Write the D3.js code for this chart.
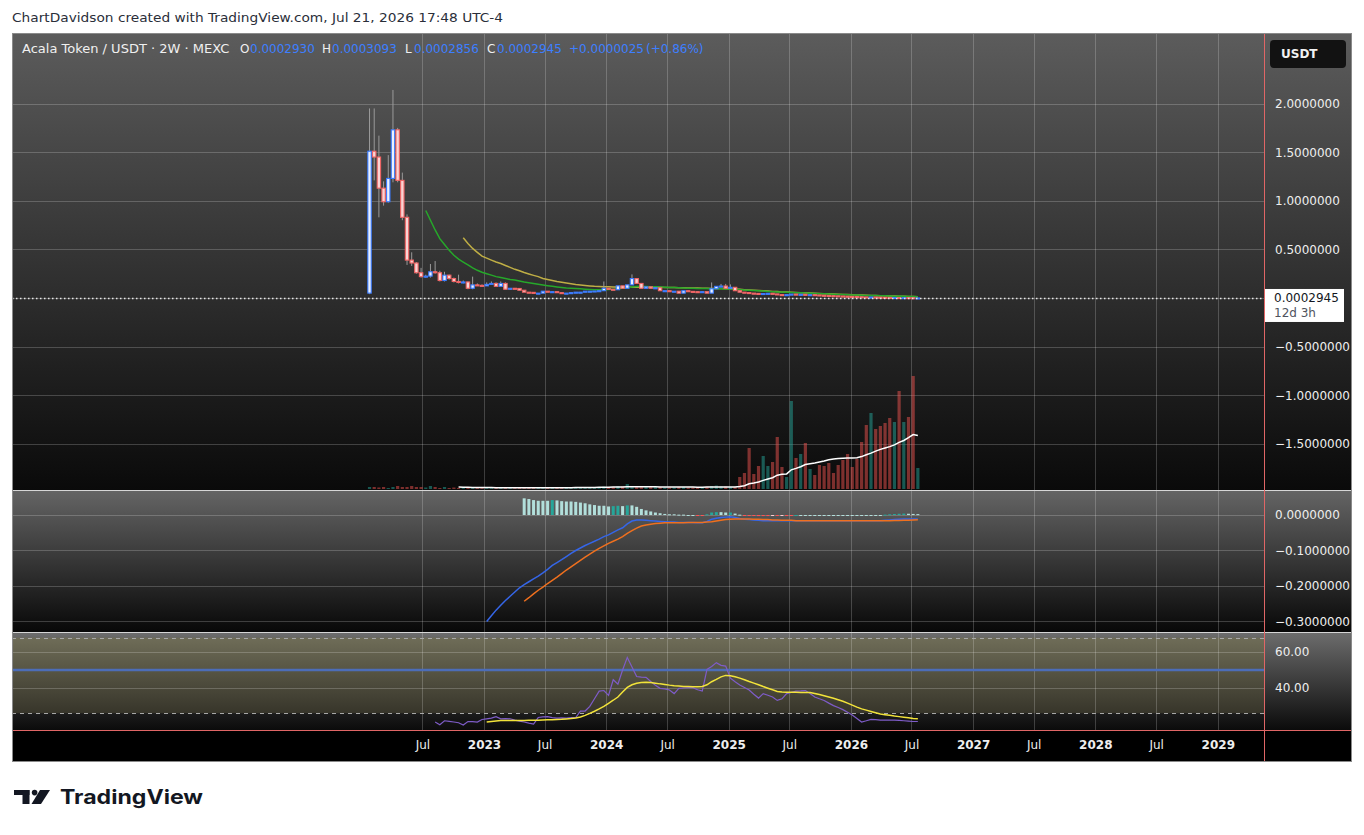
<!DOCTYPE html>
<html>
<head>
<meta charset="utf-8">
<script src="https://cdn.jsdelivr.net/npm/d3@7"></script>
<style>
  body { margin: 0; background: #fff; }
  svg { display: block; font-family: "DejaVu Sans", sans-serif; }
</style>
</head>
<body>
<div id="chart"></div>
<script>
// Acala Token / USDT, 2W bars on MEXC
var firstBar = Date.UTC(2022, 0, 24);
var barDays = 14;
var firstOpen = 0.05;

var closes = [
  1.51, 1.45, 1.13, 0.99, 1.23, 1.73, 1.21, 0.83, 0.39, 0.36,
  0.26, 0.22, 0.225, 0.27, 0.26, 0.18, 0.235, 0.20, 0.17, 0.16,
  0.165, 0.10, 0.135, 0.13, 0.125, 0.14, 0.15, 0.12, 0.15, 0.09,
  0.10, 0.098, 0.08, 0.06, 0.058, 0.05, 0.05, 0.07, 0.062, 0.065,
  0.055, 0.045, 0.05, 0.055, 0.06, 0.06, 0.07, 0.07, 0.072, 0.075,
  0.10, 0.09, 0.085, 0.125, 0.10, 0.135, 0.20, 0.15, 0.10, 0.115,
  0.10, 0.105, 0.075, 0.075, 0.07, 0.07, 0.05, 0.075, 0.068, 0.065,
  0.06, 0.065, 0.05, 0.095, 0.12, 0.123, 0.10, 0.11, 0.075, 0.06,
  0.056, 0.05, 0.047, 0.043, 0.046, 0.048, 0.042, 0.035, 0.032, 0.034,
  0.04, 0.036, 0.038, 0.032, 0.034, 0.031, 0.028, 0.026, 0.024, 0.022,
  0.02, 0.018, 0.016, 0.015, 0.013, 0.011, 0.009, 0.01, 0.008, 0.006,
  0.005, 0.004, 0.0045, 0.003, 0.0035, 0.0025, 0.000293, 0.0002945
];

// wicks that stick out past the body (bar index -> price)
var highs = {
  0: 1.95, 1: 1.95, 2: 1.67, 3: 1.2, 4: 1.47, 5: 2.14, 6: 1.75, 7: 1.29, 8: 0.86, 9: 0.47,
  10: 0.37, 11: 0.31, 12: 0.24, 13: 0.35, 14: 0.38, 15: 0.28, 16: 0.27, 17: 0.24, 18: 0.21, 19: 0.24,
  20: 0.18, 21: 0.17, 22: 0.22, 23: 0.15, 24: 0.14, 25: 0.16, 26: 0.17, 27: 0.16, 28: 0.17, 29: 0.16,
  50: 0.17, 56: 0.243, 73: 0.16, 75: 0.145, 76: 0.145, 77: 0.14, 117: 0.0003093
};
var lows = {
  0: 0.04, 1: 1.21, 2: 0.83, 3: 0.95, 4: 0.98, 5: 1.19, 6: 1.19, 7: 0.8, 8: 0.34, 9: 0.33,
  10: 0.25, 11: 0.21, 12: 0.21, 13: 0.21, 14: 0.25, 15: 0.17, 16: 0.17, 17: 0.19, 18: 0.16, 19: 0.15,
  20: 0.15, 21: 0.09, 22: 0.09, 117: 0.0002856
};

var volumes = [
  2, 2, 1.5, 2, 1, 2, 3, 2, 2, 3,
  2, 2, 1.5, 3, 2, 1, 2, 1, 1.5, 1,
  1, 1.5, 1, 1, 1, 1.5, 1, 1, 1.5, 1,
  1, 1, 1, 1.5, 1, 1, 1, 1.5, 1, 1,
  1, 1, 1, 1, 1, 1.5, 2, 1.5, 1.5, 2,
  2.5, 2, 2, 3, 2.5, 5, 3, 3, 2.5, 2,
  2, 2, 2, 1.5, 1.5, 1.5, 2, 2, 1.5, 1.5,
  1.5, 1.5, 2, 3, 3.5, 2.5, 2.5, 2, 2,
  12, 16, 41, 15, 23, 33, 23, 27, 52, 22,
  12, 88, 31, 35, 46, 20, 14, 24, 23, 26,
  16, 24, 29, 35, 22, 30, 47, 64, 76, 60,
  63, 66, 71, 67, 98, 67, 72, 113, 21
];

var volMAStart = 19;
var volMA = [
  1.9, 1.8, 1.7, 1.6, 1.5, 1.5, 1.4, 1.4, 1.3, 1.3,
  1.2, 1.2, 1.2, 1.2, 1.2, 1.2, 1.2, 1.2, 1.2, 1.2,
  1.2, 1.2, 1.3, 1.3, 1.3, 1.4, 1.4, 1.5, 1.5, 1.6,
  1.7, 1.7, 1.8, 1.9, 2, 2, 2.2, 2.2, 2.2, 2.2,
  2.2, 2.2, 2.2, 2.1, 2.1, 2, 2, 2, 1.9, 1.9,
  1.9, 1.8, 1.8, 1.9, 1.9, 2, 2, 2, 2, 2.1,
  2.6, 3.3, 5.2, 5.9, 7, 8.6, 10, 11.3, 13.8, 14.7,
  15.1, 19.2, 20.6, 22.3, 24.5, 25.3, 26, 27, 28, 29.2,
  29.9, 30.4, 30.8, 31, 31, 31.2, 32.4, 34.3, 35.9, 37.9,
  39.6, 41, 42.4, 44.1, 46.6, 48.5, 51.3, 54.4, 53.4
];

var maFastStart = 12;
var maFast = [
  0.90, 0.80, 0.70, 0.61, 0.55, 0.49, 0.44, 0.40, 0.37, 0.34,
  0.31, 0.285, 0.265, 0.25, 0.235, 0.22, 0.21, 0.20, 0.19, 0.185,
  0.175, 0.165, 0.157, 0.15, 0.142, 0.134, 0.127, 0.12, 0.114, 0.108,
  0.103, 0.10, 0.097, 0.094, 0.091, 0.088, 0.086, 0.085, 0.086, 0.088,
  0.091, 0.095, 0.10, 0.105, 0.112, 0.118, 0.12, 0.119, 0.117, 0.115,
  0.113, 0.111, 0.109, 0.107, 0.105, 0.103, 0.101, 0.10, 0.099, 0.098,
  0.097, 0.096, 0.095, 0.094, 0.093, 0.092, 0.089, 0.086, 0.083, 0.08,
  0.077, 0.074, 0.071, 0.068, 0.065, 0.063, 0.061, 0.059, 0.057, 0.055,
  0.053, 0.051, 0.049, 0.047, 0.045, 0.043, 0.041, 0.039, 0.037, 0.035,
  0.033, 0.031, 0.03, 0.029, 0.027, 0.026, 0.025, 0.023, 0.022, 0.021,
  0.019, 0.018, 0.017, 0.016, 0.015, 0.014
];

var maSlowStart = 20;
var maSlow = [
  0.62, 0.56, 0.51, 0.47, 0.43, 0.41, 0.39, 0.37, 0.355, 0.335,
  0.315, 0.295, 0.28, 0.262, 0.247, 0.233, 0.22, 0.20, 0.19, 0.18,
  0.17, 0.162, 0.154, 0.146, 0.138, 0.133, 0.128, 0.124, 0.12, 0.118,
  0.116, 0.115, 0.114, 0.113, 0.112, 0.112, 0.111, 0.111, 0.11, 0.11,
  0.11, 0.11, 0.11, 0.109, 0.108, 0.107, 0.106, 0.105, 0.104, 0.103,
  0.102, 0.101, 0.10, 0.099, 0.098, 0.097, 0.096, 0.094, 0.092, 0.089,
  0.086, 0.083, 0.08, 0.077, 0.074, 0.071, 0.068, 0.066, 0.063, 0.061,
  0.059, 0.057, 0.055, 0.053, 0.051, 0.049, 0.047, 0.045, 0.043, 0.041,
  0.039, 0.037, 0.035, 0.033, 0.031, 0.03, 0.028, 0.027, 0.025, 0.024,
  0.022, 0.021, 0.02, 0.018, 0.017, 0.016, 0.015, 0.014
];

var macdStart = 25;
var macd = [
  -0.30, -0.284, -0.268, -0.254, -0.241, -0.229, -0.217, -0.205, -0.196, -0.188,
  -0.18, -0.172, -0.163, -0.153, -0.142, -0.134, -0.126, -0.117, -0.108, -0.10,
  -0.093, -0.086, -0.08, -0.074, -0.068, -0.061, -0.056, -0.049, -0.042, -0.036,
  -0.025, -0.017, -0.014, -0.014, -0.015, -0.016, -0.017, -0.018, -0.019, -0.02,
  -0.02, -0.021, -0.021, -0.021, -0.021, -0.022, -0.022, -0.018, -0.012, -0.009,
  -0.007, -0.006, -0.005, -0.007, -0.01, -0.012, -0.013, -0.014, -0.015, -0.016,
  -0.016, -0.016, -0.016, -0.016, -0.016, -0.016, -0.016, -0.016, -0.016, -0.016,
  -0.016, -0.016, -0.016, -0.016, -0.016, -0.016, -0.016, -0.016, -0.016, -0.016,
  -0.016, -0.016, -0.016, -0.016, -0.016, -0.015, -0.014, -0.013, -0.012, -0.011,
  -0.011, -0.011, -0.011
];

var signalStart = 33;
var signal = [
  -0.243, -0.233, -0.222, -0.212, -0.203, -0.193, -0.184, -0.175, -0.165, -0.155,
  -0.146, -0.137, -0.128, -0.119, -0.11, -0.102, -0.094, -0.087, -0.08, -0.074,
  -0.068, -0.061, -0.052, -0.044, -0.037, -0.031, -0.028, -0.026, -0.024, -0.023,
  -0.022, -0.022, -0.022, -0.022, -0.022, -0.021, -0.021, -0.021, -0.021, -0.02,
  -0.019, -0.017, -0.015, -0.013, -0.012, -0.011, -0.011, -0.011, -0.011, -0.012,
  -0.012, -0.013, -0.013, -0.014, -0.014, -0.015, -0.015, -0.015, -0.016, -0.016,
  -0.016, -0.016, -0.016, -0.016, -0.016, -0.016, -0.016, -0.016, -0.016, -0.016,
  -0.016, -0.016, -0.016, -0.016, -0.016, -0.016, -0.016, -0.016, -0.016, -0.0158,
  -0.0155, -0.015, -0.0145, -0.014, -0.0135
];

var rsiStart = 14;
var rsi = [
  21.1, 19.6, 21.8, 21.5, 21.1, 20.7, 19.4, 21.4, 21.3, 21.1,
  22.5, 22.9, 23.3, 24.1, 22.9, 23, 22.9, 22.2, 21.6, 21.1,
  20.5, 20, 23.6, 24, 24.1, 23.5, 23.3, 23.4, 23.3, 23.5,
  23.6, 27.2, 27.2, 29.8, 34, 38.3, 38.6, 35.9, 44.6, 42.1,
  50, 57, 51.7, 46.4, 46, 45.9, 43.6, 41.5, 39.8, 39.5,
  38.9, 36.9, 39.8, 40, 40.2, 40.2, 39, 38.3, 50.3, 52,
  54.1, 52.6, 52.2, 45.5, 43.5, 41.7, 40.3, 38.9, 36.5, 34.4,
  36.9, 36, 35, 33.1, 34, 36.9, 37.6, 38.3, 38.4, 38.6,
  37, 35, 34, 33.1, 31.6, 30.2, 29.2, 28, 26.5, 25,
  23.1, 21.1, 21.8, 22.6, 22.4, 22.2, 22.2, 22.2, 22.2, 22,
  21.8, 21.6, 21.4, 21.4
];

var rsiMAStart = 25;
var rsiMA = [
  21.1, 21.4, 21.7, 22, 22, 22, 22, 22, 22, 22.1,
  22.1, 22.1, 22.2, 22.3, 22.4, 22.5, 22.6, 22.8, 23, 23.3,
  23.9, 24.8, 25.9, 27.1, 28.4, 29.8, 31.5, 33.2, 35, 37.8,
  40.3, 41.8, 42.6, 43, 43.2, 43, 42.7, 42.3, 42, 41.6,
  41.3, 41.1, 40.9, 40.8, 40.7, 40.7, 40.8, 41.8, 43.5, 44.8,
  46.2, 47, 46.8, 46.2, 45.5, 44.6, 43.6, 42.7, 41.8, 40.8,
  39.9, 39, 38.1, 37.8, 37.7, 37.6, 37.6, 37.5, 37.5, 37.5,
  37, 36.4, 35.7, 35, 34.3, 33.5, 32.6, 31.6, 30.5, 29.4,
  28.4, 27.7, 27, 26.3, 25.6, 25.2, 24.8, 24.4, 24.1, 23.8,
  23.5, 23.1, 22.9
];
var rsiUpper = 68, rsiMid = 50, rsiLower = 26;

var priceTicks = [2, 1.5, 1, 0.5, 0, -0.5, -1, -1.5];
var macdTicks = [0, -0.1, -0.2, -0.3];
var rsiTicks = [60, 40];
var timeTicks = [
  [2022, 6], [2023, 0], [2023, 6], [2024, 0], [2024, 6], [2025, 0], [2025, 6],
  [2026, 0], [2026, 6], [2027, 0], [2027, 6], [2028, 0], [2028, 6], [2029, 0]
].map(function (d) { return new Date(Date.UTC(d[0], d[1], 1)); });

var lastPrice = 0.0002945;
var legend = { o: "0.0002930", h: "0.0003093", l: "0.0002856", c: "0.0002945", chg: "+0.0000025", pct: "(+0.86%)" };

// ---- layout
var width = 1364, height = 835;
var left = 12, right = 1264, axisRight = 1352;
var mainTop = 33, mainBottom = 490, macdTop = 491, macdBottom = 632;
var rsiTop = 633, rsiBottom = 730, timeBottom = 762;

function barDate(i) { return new Date(firstBar + i * barDays * 864e5); }
function series(values, start) {
  return values.map(function (v, k) { return { i: start + k, v: v }; });
}

var x = d3.scaleUtc()
  .domain([new Date(Date.UTC(2019, 1, 21)), new Date(Date.UTC(2029, 4, 19))])
  .range([left, right]);
var y = d3.scaleLinear().domain([-1.975, 2.726]).range([mainBottom, mainTop]);
var yVol = d3.scaleLinear().domain([0, d3.max(volumes)]).range([mainBottom - 1, 376]);
var yMacd = d3.scaleLinear().domain([-0.3296, 0.0676]).range([macdBottom, macdTop]);
var yRsi = d3.scaleLinear().domain([16.67, 70.56]).range([rsiBottom, rsiTop]);

var svg = d3.select("#chart").append("svg")
  .attr("width", width)
  .attr("height", height);

var defs = svg.append("defs");
function vGrad(id, top, bottom) {
  var g = defs.append("linearGradient").attr("id", id)
    .attr("x1", 0).attr("y1", 0).attr("x2", 0).attr("y2", 1);
  g.append("stop").attr("offset", "0%").attr("stop-color", top);
  g.append("stop").attr("offset", "100%").attr("stop-color", bottom);
}
vGrad("gMain", "#5c5c5c", "#0a0a0a");
vGrad("gMacd", "#646464", "#080808");
vGrad("gRsi", "#6c6c6c", "#0b0b0b");
vGrad("gBand", "#6f6d58", "#37352a");
defs.append("clipPath").attr("id", "clipMain").append("rect")
  .attr("x", left).attr("y", mainTop).attr("width", right - left).attr("height", mainBottom - mainTop);
defs.append("clipPath").attr("id", "clipMacd").append("rect")
  .attr("x", left).attr("y", macdTop).attr("width", right - left).attr("height", macdBottom - macdTop);

// page header
svg.append("text")
  .attr("x", 12).attr("y", 22)
  .attr("textLength", 491).attr("lengthAdjust", "spacingAndGlyphs")
  .style("font-size", "13px").style("fill", "#2a2e39")
  .text("ChartDavidson created with TradingView.com, Jul 21, 2026 17:48 UTC-4");

// pane backgrounds
svg.append("rect").attr("x", left).attr("y", mainTop).attr("width", axisRight - left)
  .attr("height", mainBottom - mainTop).attr("fill", "url(#gMain)");
svg.append("rect").attr("x", left).attr("y", macdTop).attr("width", axisRight - left)
  .attr("height", macdBottom - macdTop).attr("fill", "url(#gMacd)");
svg.append("rect").attr("x", left).attr("y", rsiTop).attr("width", axisRight - left)
  .attr("height", rsiBottom - rsiTop).attr("fill", "url(#gRsi)");
svg.append("rect").attr("x", left).attr("y", yRsi(rsiUpper)).attr("width", right - left)
  .attr("height", yRsi(rsiLower) - yRsi(rsiUpper)).attr("fill", "url(#gBand)");
svg.append("rect").attr("x", left).attr("y", rsiBottom).attr("width", axisRight - left)
  .attr("height", timeBottom - rsiBottom).attr("fill", "#000");

// grid
var grid = svg.append("g").attr("stroke", "rgba(255,255,255,0.2)").attr("stroke-width", 1);
grid.selectAll(".vx").data(timeTicks).enter().append("line")
  .attr("x1", function (d) { return Math.round(x(d)) + 0.5; })
  .attr("x2", function (d) { return Math.round(x(d)) + 0.5; })
  .attr("y1", mainTop).attr("y2", rsiBottom);
grid.selectAll(".hp").data(priceTicks).enter().append("line")
  .attr("x1", left).attr("x2", right)
  .attr("y1", function (d) { return Math.round(y(d)) + 0.5; })
  .attr("y2", function (d) { return Math.round(y(d)) + 0.5; });
grid.selectAll(".hm").data(macdTicks).enter().append("line")
  .attr("x1", left).attr("x2", right)
  .attr("y1", function (d) { return Math.round(yMacd(d)) + 0.5; })
  .attr("y2", function (d) { return Math.round(yMacd(d)) + 0.5; });
grid.selectAll(".hr").data(rsiTicks).enter().append("line")
  .attr("x1", left).attr("x2", right)
  .attr("y1", function (d) { return Math.round(yRsi(d)) + 0.5; })
  .attr("y2", function (d) { return Math.round(yRsi(d)) + 0.5; });

// ---- main pane
var main = svg.append("g").attr("clip-path", "url(#clipMain)");

var bars = closes.map(function (c, i) {
  var o = i === 0 ? firstOpen : closes[i - 1];
  return {
    date: barDate(i), o: o, c: c,
    h: highs[i] != null ? highs[i] : Math.max(o, c),
    l: lows[i] != null ? lows[i] : Math.min(o, c),
    up: c >= o, vol: volumes[i]
  };
});

main.selectAll(".vol").data(bars).enter().append("rect")
  .attr("x", function (d) { return x(d.date) - 1.6; })
  .attr("width", 3.2)
  .attr("y", function (d) { return yVol(d.vol); })
  .attr("height", function (d) { return yVol(0) - yVol(d.vol); })
  .attr("fill", function (d) { return d.up ? "rgba(38,166,154,0.5)" : "rgba(239,83,80,0.5)"; });

var lineVol = d3.line()
  .x(function (d) { return x(barDate(d.i)); })
  .y(function (d) { return yVol(d.v); });
main.append("path").datum(series(volMA, volMAStart))
  .attr("d", lineVol).attr("fill", "none").attr("stroke", "#ffffff").attr("stroke-width", 1.5);

var linePrice = d3.line()
  .x(function (d) { return x(barDate(d.i)); })
  .y(function (d) { return y(d.v); });
main.append("path").datum(series(maSlow, maSlowStart))
  .attr("d", linePrice).attr("fill", "none").attr("stroke", "#bfae45").attr("stroke-width", 1.5);
main.append("path").datum(series(maFast, maFastStart))
  .attr("d", linePrice).attr("fill", "none").attr("stroke", "#26a82a").attr("stroke-width", 1.5);

main.selectAll(".wick").data(bars).enter().append("line")
  .attr("x1", function (d) { return x(d.date); })
  .attr("x2", function (d) { return x(d.date); })
  .attr("y1", function (d) { return y(d.h); })
  .attr("y2", function (d) { return y(d.l); })
  .attr("stroke", "#9a9a9a").attr("stroke-width", 1);

main.selectAll(".body").data(bars).enter().append("rect")
  .attr("x", function (d) { return x(d.date) - 1.7; })
  .attr("width", 3.4)
  .attr("y", function (d) { return y(Math.max(d.o, d.c)); })
  .attr("height", function (d) { return Math.max(1, Math.abs(y(d.o) - y(d.c))); })
  .attr("fill", function (d) { return d.up ? "#eaf1ff" : "#f9d4d4"; })
  .attr("stroke", function (d) { return d.up ? "#3a7bff" : "#f06464"; })
  .attr("stroke-width", 1.1);

// last price line
svg.append("line")
  .attr("x1", left).attr("x2", right)
  .attr("y1", Math.round(y(lastPrice)) + 0.5).attr("y2", Math.round(y(lastPrice)) + 0.5)
  .attr("stroke", "#e8e8e8").attr("stroke-width", 1.3).attr("stroke-dasharray", "1.5,2.5");

// legend row
var leg = svg.append("g").style("font-size", "12px");
function legText(xp, t, c, size) {
  leg.append("text").attr("x", xp).attr("y", 53).style("fill", c)
    .style("font-size", size || "12px").text(t);
}
legText(22, "Acala Token / USDT · 2W · MEXC", "#f0f0f0", "13px");
legText(240, "O", "#f0f0f0"); legText(250, legend.o, "#3d7fff");
legText(322, "H", "#f0f0f0"); legText(332, legend.h, "#3d7fff");
legText(405, "L", "#f0f0f0"); legText(414, legend.l, "#3d7fff");
legText(487, "C", "#f0f0f0"); legText(497, legend.c, "#3d7fff");
legText(569, legend.chg, "#3d7fff");
legText(646, legend.pct, "#3d7fff");

// ---- MACD pane
var macdPane = svg.append("g").attr("clip-path", "url(#clipMacd)");
var hist = signal.map(function (s, k) {
  var i = signalStart + k;
  return { i: i, v: macd[i - macdStart] - s };
});
hist.forEach(function (d, k) { d.rising = k > 0 ? d.v > hist[k - 1].v : false; });

macdPane.selectAll(".hist").data(hist).enter().append("rect")
  .attr("x", function (d) { return x(barDate(d.i)) - 1.5; })
  .attr("width", 3)
  .attr("y", function (d) { return yMacd(Math.max(0, d.v)); })
  .attr("height", function (d) { return Math.max(1, Math.abs(yMacd(d.v) - yMacd(0))); })
  .attr("fill", function (d) {
    if (d.v >= 0) return d.rising ? "#26a69a" : "#b2dfdb";
    return d.rising ? "#ffcdd2" : "#ff5252";
  });

var lineMacd = d3.line()
  .x(function (d) { return x(barDate(d.i)); })
  .y(function (d) { return yMacd(d.v); });
macdPane.append("path").datum(series(macd, macdStart))
  .attr("d", lineMacd).attr("fill", "none").attr("stroke", "#3566e8").attr("stroke-width", 1.5);
macdPane.append("path").datum(series(signal, signalStart))
  .attr("d", lineMacd).attr("fill", "none").attr("stroke", "#f0701e").attr("stroke-width", 1.5);

// ---- RSI pane
svg.selectAll(".band").data([rsiUpper, rsiLower]).enter().append("line")
  .attr("x1", left).attr("x2", right)
  .attr("y1", function (d) { return Math.round(yRsi(d)) + 0.5; })
  .attr("y2", function (d) { return Math.round(yRsi(d)) + 0.5; })
  .attr("stroke", "#a8a8a8").attr("stroke-width", 1).attr("stroke-dasharray", "4,4");
svg.append("line")
  .attr("x1", left).attr("x2", right)
  .attr("y1", yRsi(rsiMid)).attr("y2", yRsi(rsiMid))
  .attr("stroke", "#4c6db8").attr("stroke-width", 2.5);

var lineRsi = d3.line()
  .x(function (d) { return x(barDate(d.i)); })
  .y(function (d) { return yRsi(d.v); });
svg.append("path").datum(series(rsi, rsiStart))
  .attr("d", lineRsi).attr("fill", "none").attr("stroke", "#7e5cc8").attr("stroke-width", 1.2);
svg.append("path").datum(series(rsiMA, rsiMAStart))
  .attr("d", lineRsi).attr("fill", "none").attr("stroke", "#f2e33a").attr("stroke-width", 1.5);

// ---- separators and frame
svg.append("line").attr("x1", left).attr("x2", axisRight).attr("y1", 490.5).attr("y2", 490.5)
  .attr("stroke", "#d6d6d6").attr("stroke-width", 1.2);
svg.append("line").attr("x1", left).attr("x2", axisRight).attr("y1", 632.5).attr("y2", 632.5)
  .attr("stroke", "#d6d6d6").attr("stroke-width", 1.2);
svg.append("line").attr("x1", left).attr("x2", axisRight).attr("y1", rsiBottom + 0.5).attr("y2", rsiBottom + 0.5)
  .attr("stroke", "#e06666").attr("stroke-width", 1);
svg.append("line").attr("x1", right + 0.5).attr("x2", right + 0.5).attr("y1", mainTop).attr("y2", timeBottom)
  .attr("stroke", "#e06666").attr("stroke-width", 1);
svg.append("rect").attr("x", left + 0.5).attr("y", mainTop + 0.5)
  .attr("width", axisRight - left - 1).attr("height", timeBottom - mainTop - 1)
  .attr("fill", "none").attr("stroke", "#8a8a8a").attr("stroke-width", 1);

// ---- axes
function num7(v) { return (v < 0 ? "\u2212" : "") + Math.abs(v).toFixed(7); }
function styleAxis(g) {
  g.select(".domain").remove();
  g.attr("font-family", null).attr("font-size", null);
  g.selectAll("text").style("font-size", "12px").style("fill", "#eeeeee");
}

svg.append("g").attr("transform", "translate(" + right + ",0)")
  .call(d3.axisRight(y).tickValues(priceTicks.filter(function (d) { return d !== 0; }))
    .tickSize(0).tickPadding(11).tickFormat(num7))
  .call(styleAxis);
svg.append("g").attr("transform", "translate(" + right + ",0)")
  .call(d3.axisRight(yMacd).tickValues(macdTicks).tickSize(0).tickPadding(11).tickFormat(num7))
  .call(styleAxis);
svg.append("g").attr("transform", "translate(" + right + ",0)")
  .call(d3.axisRight(yRsi).tickValues(rsiTicks).tickSize(0).tickPadding(11)
    .tickFormat(function (d) { return d.toFixed(2); }))
  .call(styleAxis);

var timeAxis = svg.append("g").attr("transform", "translate(0," + rsiBottom + ")")
  .call(d3.axisBottom(x).tickValues(timeTicks).tickSize(0).tickPadding(10)
    .tickFormat(function (d) { return d.getUTCMonth() === 0 ? String(d.getUTCFullYear()) : "Jul"; }))
  .call(styleAxis);
timeAxis.selectAll("text").style("font-weight", function (d) { return d.getUTCMonth() === 0 ? "bold" : "normal"; });

// currency badge and last price tag
svg.append("rect").attr("x", 1270).attr("y", 40).attr("width", 76).attr("height", 28)
  .attr("rx", 4).attr("fill", "#121212");
svg.append("text").attr("x", 1281).attr("y", 58).style("font-size", "12px")
  .style("fill", "#f2f2f2").style("font-weight", "bold").text("USDT");

var tagY = y(lastPrice);
svg.append("rect").attr("x", 1265).attr("y", tagY - 9).attr("width", 79).attr("height", 33)
  .attr("fill", "#ffffff");
svg.append("text").attr("x", 1274).attr("y", tagY + 4.5).style("font-size", "12px")
  .style("fill", "#131722").text(lastPrice.toFixed(7));
svg.append("text").attr("x", 1274).attr("y", tagY + 19).style("font-size", "12px")
  .style("fill", "#50535e").text("12d 3h");

// ---- TradingView logo
var logo = svg.append("g").attr("fill", "#131722");
logo.append("rect").attr("x", 14).attr("y", 790).attr("width", 15.5).attr("height", 5);
logo.append("rect").attr("x", 22.5).attr("y", 790).attr("width", 7).attr("height", 14);
logo.append("circle").attr("cx", 34.6).attr("cy", 792.6).attr("r", 2.8);
logo.append("polygon").attr("points", "40,790 50,790 41,804 31.5,804");
logo.append("text").attr("x", 60).attr("y", 804)
  .attr("textLength", 143).attr("lengthAdjust", "spacingAndGlyphs")
  .style("font-size", "20px").style("font-weight", "bold").style("font-family", "Inter, Roboto, sans-serif")
  .text("TradingView");
</script>
</body>
</html>
